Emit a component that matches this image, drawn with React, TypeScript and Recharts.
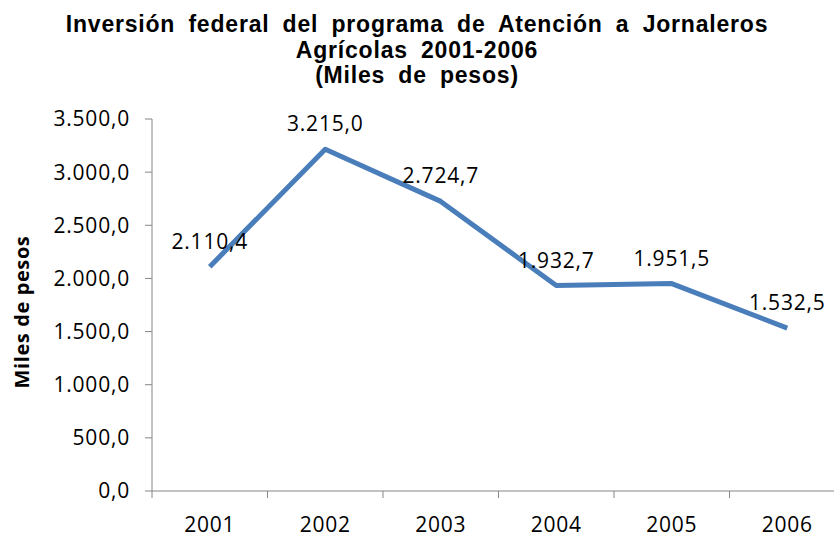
import { LineChart, Line, XAxis, YAxis, LabelList } from "recharts";

const years = ["2001", "2002", "2003", "2004", "2005", "2006"];
const inversion = [2110.4, 3215.0, 2724.7, 1932.7, 1951.5, 1532.5];
const yTicks = [0, 500, 1000, 1500, 2000, 2500, 3000, 3500];

const data = years.map((year, i) => ({ year, value: inversion[i] }));

const AXIS = "#868686";
const TICK_FONT = "'Open Sans', sans-serif";
const TICK_STYLE = { fontFamily: TICK_FONT, fontSize: 21, letterSpacing: 0.8 };
const CHART_W = 870;
const LEFT = 152;
const RIGHT = 25;
const BAND = (CHART_W - LEFT - RIGHT) / years.length;

// 3215 -> "3.215,0"
const fmt = (v: number) => {
  const [i, d] = v.toFixed(1).split(".");
  return i.replace(/\B(?=(\d{3})+(?!\d))/g, ".") + "," + d;
};

function YearTick(props: any) {
  const { x, y, payload, index } = props;
  const half = BAND / 2;
  return (
    <g>
      <line x1={x - half} x2={x - half} y1={y} y2={y + 7} stroke={AXIS} />
      {index === years.length - 1 && (
        <line x1={x + half} x2={x + half} y1={y} y2={y + 7} stroke={AXIS} />
      )}
      <text x={x} y={y + 33} textAnchor="middle" dominantBaseline="central" fill="#000" style={TICK_STYLE}>
        {payload.value}
      </text>
    </g>
  );
}

function ValueLabel(props: any) {
  const { x, y, value } = props;
  return (
    <text x={x} y={y - 18} textAnchor="middle" fill="#000" style={TICK_STYLE}>
      {fmt(value)}
    </text>
  );
}

export default function App() {
  return (
    <div style={{ position: "absolute", left: 0, top: 0, width: 834, height: 542, overflow: "hidden", background: "#fff" }}>
      <div
        style={{
          position: "absolute",
          left: 0,
          top: 12,
          width: 834,
          textAlign: "center",
          fontFamily: "'Liberation Sans', Arial, sans-serif",
          fontWeight: "bold",
          fontSize: 23,
          lineHeight: "25.5px",
          wordSpacing: 6,
          letterSpacing: 0.8,
        }}
      >
        Inversión federal del programa de Atención a Jornaleros
        <br />
        Agrícolas 2001-2006
        <br />
        (Miles de pesos)
      </div>
      <div
        style={{
          position: "absolute",
          left: 21,
          top: 312,
          transform: "translate(-50%, -50%) rotate(-90deg)",
          whiteSpace: "nowrap",
          fontFamily: TICK_FONT,
          fontWeight: "bold",
          fontSize: 20,
          letterSpacing: 0.6,
        }}
      >
        Miles de pesos
      </div>
      <LineChart
        width={CHART_W}
        height={542}
        data={data}
        margin={{ top: 119, right: RIGHT, bottom: 0, left: 0 }}
        style={{ position: "absolute", left: 0, top: 0 }}
      >
        <XAxis
          dataKey="year"
          height={51}
          stroke={AXIS}
          padding={{ left: BAND / 2, right: BAND / 2 }}
          tickLine={false}
          tickSize={0}
          tickMargin={0}
          tick={<YearTick />}
          interval={0}
        />
        <YAxis
          width={LEFT}
          domain={[0, 3500]}
          ticks={yTicks}
          stroke={AXIS}
          tickSize={7}
          tickMargin={15}
          tickFormatter={fmt}
          tick={{ fill: "#000", ...TICK_STYLE }}
          interval={0}
        />
        <Line
          type="linear"
          dataKey="value"
          stroke="#4A7EBB"
          strokeWidth={5}
          strokeLinejoin="round"
          dot={false}
          activeDot={false}
          isAnimationActive={false}
        >
          <LabelList dataKey="value" content={<ValueLabel />} />
        </Line>
      </LineChart>
    </div>
  );
}
